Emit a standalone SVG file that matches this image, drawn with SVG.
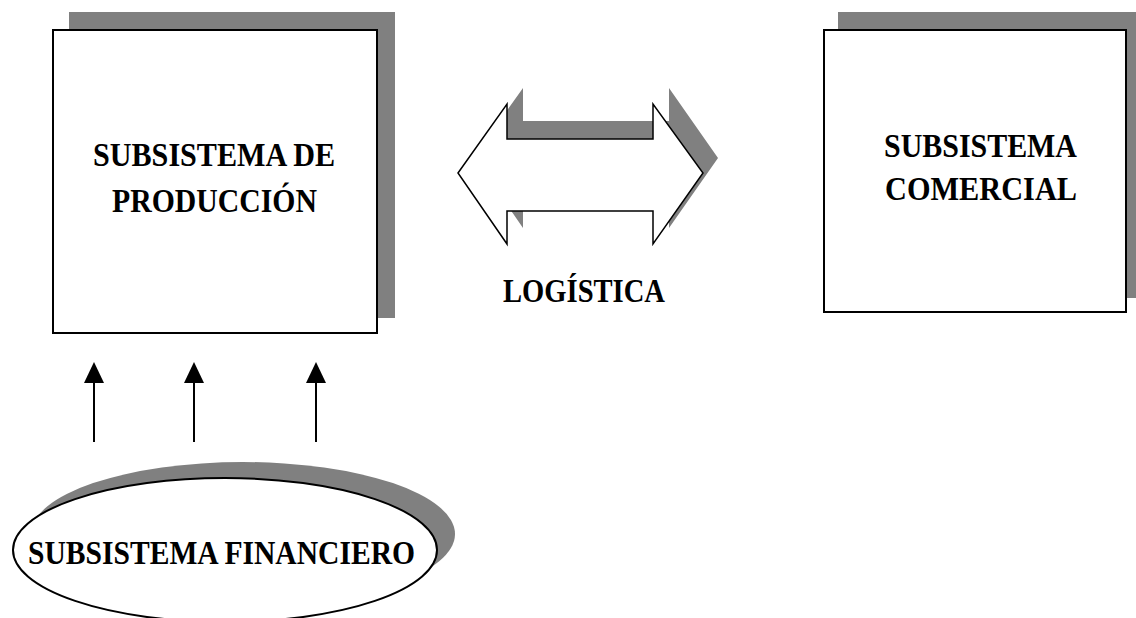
<svg xmlns="http://www.w3.org/2000/svg" width="1136" height="618" viewBox="0 0 1136 618">
<style>
.sh{fill:#808080;stroke:none}
.bx{fill:#fff;stroke:#000;stroke-width:2}
.t{font-family:"Liberation Serif","Times New Roman",serif;font-weight:bold;font-size:34px;fill:#000}
.ln{stroke:#000;stroke-width:2;fill:none}
</style>
<rect width="1136" height="618" fill="#fff"/>
<g id="produccion">
<rect class="sh" x="69" y="12" width="326" height="306"/>
<rect class="bx" x="53" y="30" width="324" height="303"/>
<text class="t" x="93" y="166" textLength="242" lengthAdjust="spacingAndGlyphs">SUBSISTEMA DE</text>
<text class="t" x="112" y="212" textLength="205" lengthAdjust="spacingAndGlyphs">PRODUCCIÓN</text>
</g>
<g id="comercial">
<rect class="sh" x="838" y="12" width="310" height="286"/>
<rect class="bx" x="824" y="30" width="302" height="282"/>
<text class="t" x="884" y="157" textLength="193" lengthAdjust="spacingAndGlyphs">SUBSISTEMA</text>
<text class="t" x="885" y="200" textLength="192" lengthAdjust="spacingAndGlyphs">COMERCIAL</text>
</g>
<g id="logistica">
<path class="sh" d="M474,157 L523,88 L523,121 L669,121 L669,88 L718,158 L669,228 L669,195 L523,195 L523,228 z"/>
<path fill="#fff" stroke="#000" stroke-width="1.5" d="M458,173 L507,104 L507,139 L653,139 L653,104 L703,173 L653,244 L653,211 L507,211 L507,244 z"/>
<text class="t" x="503" y="302" textLength="162" lengthAdjust="spacingAndGlyphs">LOGÍSTICA</text>
</g>
<g id="financiero">
<ellipse class="sh" cx="243" cy="534" rx="212" ry="72"/>
<ellipse class="bx" cx="225" cy="550" rx="212" ry="72" stroke-width="1.5"/>
<text class="t" x="28" y="564" textLength="387" lengthAdjust="spacingAndGlyphs">SUBSISTEMA FINANCIERO</text>
</g>
<g id="connectors">
<path d="M94,442 L94,383" class="ln"/>
<path d="M194,442 L194,383" class="ln"/>
<path d="M316,442 L316,383" class="ln"/>
<path d="M84,383 L94,362 L104,383 z" fill="#000"/>
<path d="M184,383 L194,362 L204,383 z" fill="#000"/>
<path d="M306,383 L316,362 L326,383 z" fill="#000"/>
</g>
</svg>
